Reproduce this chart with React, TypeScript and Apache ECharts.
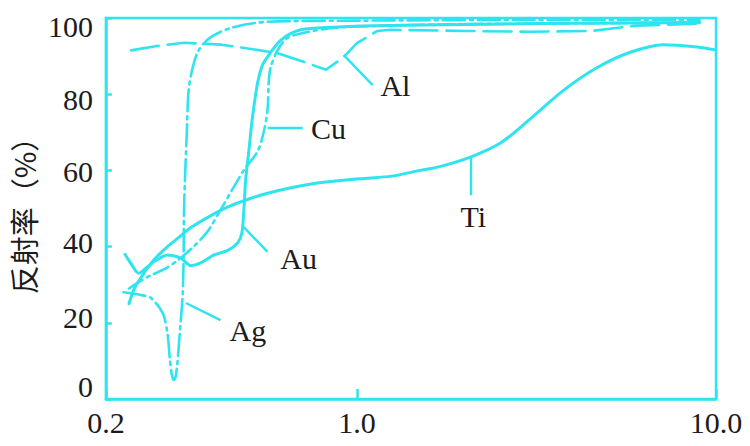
import { useEffect, useRef } from 'react';
import * as echarts from 'echarts';

// Wavelength (μm) and reflectance (%) readings for each metal
const tiX = [0.232, 0.24, 0.255, 0.275, 0.297, 0.32, 0.345, 0.39, 0.437, 0.5, 0.564, 0.66, 0.778, 1.02, 1.25, 1.5, 1.7, 2.07, 2.51, 3.04, 3.76, 4.67, 5.77, 7.13, 8.86, 10];
const tiY = [25, 29, 33, 37, 40, 42.5, 45, 48, 50.4, 52.5, 54, 55.5, 56.7, 57.8, 58.5, 60, 61, 63.5, 67.2, 73.5, 81, 87, 91, 93, 92.4, 91.6];

const auX = [0.226, 0.235, 0.247, 0.26, 0.272, 0.297, 0.323, 0.345, 0.367, 0.4, 0.437, 0.466, 0.478, 0.484, 0.49, 0.5, 0.512, 0.529, 0.545, 0.564, 0.614, 0.697, 0.86, 1.2, 2, 4, 9];
const auY = [38, 35.5, 33, 34.5, 36, 37.8, 37, 35, 35.7, 37.8, 39, 41, 43.5, 49, 57.5, 65, 74, 83, 87.5, 89.8, 94.2, 96.9, 97.6, 98, 98.3, 98.6, 98.8];

const cuX = [0.232, 0.25, 0.267, 0.29, 0.318, 0.351, 0.384, 0.417, 0.45, 0.484, 0.529, 0.55, 0.564, 0.568, 0.575, 0.602, 0.641, 0.728, 0.86, 1.2, 2, 4, 9];
const cuY = [29, 31, 32.5, 34, 36.5, 40, 44, 49.6, 55, 60, 65, 70, 76, 83, 87, 91.6, 94.8, 96.3, 97.4, 98, 98.4, 98.6, 98.8];

const agX = [0.224, 0.25, 0.267, 0.288, 0.297, 0.301, 0.305, 0.309, 0.313, 0.316, 0.318, 0.321, 0.327, 0.329, 0.33, 0.332, 0.336, 0.34, 0.349, 0.363, 0.392, 0.454, 0.564, 1, 3, 9];
const agY = [28, 27.3, 26.5, 22.5, 17, 11, 6.5, 5, 6, 9, 12, 17, 27, 36, 49, 57.5, 70, 81, 87, 91.6, 95, 97.6, 99, 99.3, 99.5, 99.5];

const alX = [0.235, 0.28, 0.33, 0.42, 0.53, 0.6, 0.71, 0.82, 0.92, 1.0, 1.14, 1.24, 2, 3, 4.5, 6, 9];
const alY = [91.5, 92.7, 93.5, 93, 91.6, 90.8, 88.5, 86.4, 89.8, 93.4, 96.6, 96.9, 96.6, 96.4, 96.6, 98, 98.5];

// Callout leaders: [x1, y1, x2, y2] and label anchors [x, y]
const metals = ['Al', 'Cu', 'Au', 'Ag', 'Ti'];
const leaderLines = [
  [0.918, 90.3, 1.106, 82.4],
  [0.564, 71.1, 0.706, 71.1],
  [0.484, 45.1, 0.564, 38.6],
  [0.334, 25.2, 0.417, 20.7],
  [2.07, 63.5, 2.07, 53.5],
];
const labelAnchors = [
  [1.28, 82.2],
  [0.834, 71.1],
  [0.688, 37],
  [0.497, 18.1],
  [2.11, 47.8],
];

const xTicks = [0.2, 1.0, 10.0];
const yTicks = [0, 20, 40, 60, 80, 100];

const CYAN = '#2ee4ef';
const INK = '#1c1c1c';
const SERIF = 'Liberation Serif';

// Small vertical nudges of the y tick labels (px, positive = down)
const yLabelNudge: Record<number, number> = { 0: -13, 20: -5, 40: -4, 60: 1, 80: 5, 100: 8 };

const zip = (xs: number[], ys: number[]) => xs.map((x, i) => [x, ys[i]]);

export default function App() {
  const ref = useRef<HTMLDivElement>(null);

  useEffect(() => {
    const chart = echarts.init(ref.current!, null, { renderer: 'svg' });

    const curve = (name: string, data: number[][], type: any, smooth: number | boolean, width = 2.6) => ({
      name,
      type: 'line',
      data,
      showSymbol: false,
      smooth,
      lineStyle: { color: CYAN, width, type, cap: 'round', join: 'round' },
      silent: true,
      z: 3,
    });

    const annotations = {
      name: 'labels',
      type: 'line',
      data: [],
      silent: true,
      markLine: {
        symbol: ['none', 'none'],
        silent: true,
        animation: false,
        lineStyle: { color: CYAN, width: 2.4, type: 'solid' },
        label: { show: false },
        data: leaderLines.map(([x1, y1, x2, y2]) => [
          { coord: [x1, y1] },
          { coord: [x2, y2] },
        ]),
      },
      markPoint: {
        symbol: 'circle',
        symbolSize: 0,
        silent: true,
        animation: false,
        label: {
          show: true,
          position: 'inside',
          color: INK,
          fontFamily: SERIF,
          fontSize: 30,
          formatter: (p: any) => p.name,
        },
        data: labelAnchors.map((c, i) => ({ name: metals[i], coord: c })),
      },
    };

    const yRich: Record<string, any> = {};
    yTicks.forEach((t) => {
      const n = yLabelNudge[t] || 0;
      yRich['t' + t] = {
        color: INK,
        fontFamily: SERIF,
        fontSize: 30,
        padding: n >= 0 ? [2 * n, 0, 0, 0] : [0, 0, -2 * n, 0],
      };
    });

    chart.setOption({
      animation: false,
      backgroundColor: '#ffffff',
      grid: {
        left: 105,
        right: 34,
        top: 18,
        bottom: 47,
        show: true,
        borderColor: CYAN,
        borderWidth: 2.5,
      },
      xAxis: {
        type: 'log',
        logBase: 10,
        min: xTicks[0],
        max: xTicks[xTicks.length - 1],
        axisLine: { show: true, lineStyle: { color: CYAN, width: 2.5 } },
        axisTick: { show: true, inside: true, length: 10, lineStyle: { color: CYAN, width: 2.5 } },
        minorTick: { show: false },
        splitLine: { show: false },
        axisLabel: {
          color: INK,
          fontFamily: SERIF,
          fontSize: 30,
          margin: 8,
          showMinLabel: true,
          showMaxLabel: true,
          formatter: (v: number) => {
            const t = xTicks.find((k) => Math.abs(k - v) < 1e-6);
            return t === undefined ? '' : t.toFixed(1);
          },
        },
      },
      yAxis: {
        type: 'value',
        min: yTicks[0],
        max: yTicks[yTicks.length - 1],
        interval: 20,
        name: '反射率（%）',
        nameLocation: 'middle',
        nameRotate: 90,
        nameGap: 62,
        nameTextStyle: { color: INK, fontFamily: 'Noto Sans CJK SC', fontSize: 29 },
        axisLine: { show: true, lineStyle: { color: CYAN, width: 2.5 } },
        axisTick: { show: true, inside: true, length: 6, lineStyle: { color: CYAN, width: 2.5 } },
        splitLine: { show: false },
        axisLabel: {
          color: INK,
          fontFamily: SERIF,
          fontSize: 30,
          margin: 13,
          formatter: (v: number) => `{t${v}|${v}}`,
          rich: yRich,
        },
      },
      series: [
        curve('Ti', zip(tiX, tiY), 'solid', 0.3, 3),
        curve('Au', zip(auX, auY), 'solid', 0.3, 3),
        curve('Cu', zip(cuX, cuY), [16, 5, 3, 5], 0.3),
        curve('Ag', zip(agX, agY), [22, 5, 3, 5], 0.3),
        curve('Al', zip(alX, alY), [28, 9], false),
        annotations,
      ],
    });

    return () => chart.dispose();
  }, []);

  return (
    <div
      ref={ref}
      style={{ position: 'fixed', left: 0, top: 0, width: 750, height: 446, background: '#fff' }}
    />
  );
}
